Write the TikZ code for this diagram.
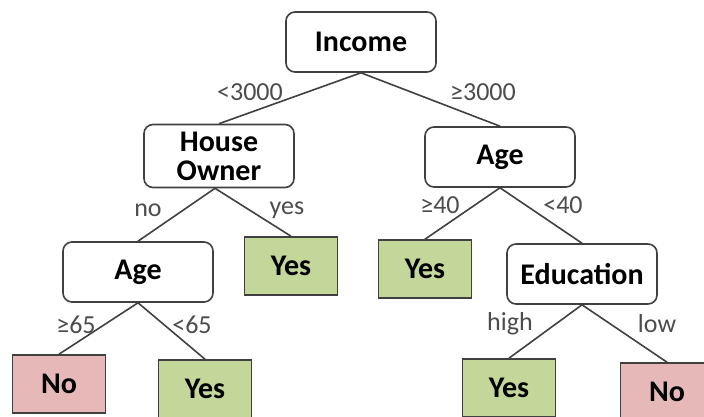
\documentclass[tikz,border=0pt]{standalone}
\usepackage{fontspec}
\setmainfont{Carlito}
\usetikzlibrary{positioning}
\definecolor{LeafGreen}{RGB}{196,215,155}
\definecolor{LeafRed}{RGB}{230,185,184}
\definecolor{EdgeGray}{RGB}{64,64,64}

\begin{document}
\begin{tikzpicture}[x=1pt,y=-1pt,
  test/.style={draw=EdgeGray,line width=1.6pt,rounded corners=9pt,fill=white,
    minimum width=150pt,minimum height=60pt,align=center,
    font=\fontsize{30}{29}\selectfont\bfseries},
  leaf/.style={draw=EdgeGray,line width=1.6pt,minimum width=93pt,minimum height=58pt,
    font=\fontsize{30}{29}\selectfont\bfseries},
  leafyes/.style={leaf,fill=LeafGreen},
  leafno/.style={leaf,fill=LeafRed},
  branch/.style={draw=EdgeGray,line width=1.6pt},
  lab/.style={text=black!70,font=\fontsize{26}{26}\selectfont}]
  \clip (0,0) rectangle (704,417);
  % decision nodes
  \node[test] (income) at (361,42) {Income};
  \node[test,minimum height=63pt,inner sep=1pt] (owner) at (219,156) {House\\Owner};
  \node[test] (ageR) at (500,157) {Age};
  \node[test] (ageL) at (138,272) {Age};
  \node[test] (edu) at (582,274) {Education};
  % leaves
  \node[leafyes] (yesA) at (291,266) {Yes};
  \node[leafyes] (yesB) at (425,269) {Yes};
  \node[leafno] (noA) at (59,384) {No};
  \node[leafyes] (yesC) at (205,389) {Yes};
  \node[leafyes] (yesD) at (509,388) {Yes};
  \node[leafno] (noB) at (667,392) {No};
  % branches
  \draw[branch] (income.south) -- (owner.north);
  \draw[branch] (income.south) -- (ageR.north);
  \draw[branch] (owner.south) ++(-4,0) -- (ageL.north);
  \draw[branch] (owner.south) ++(-4,0) -- (yesA.north);
  \draw[branch] (ageR.south) -- (yesB.north);
  \draw[branch] (ageR.south) -- (edu.north);
  \draw[branch] (ageL.south) -- (noA.north);
  \draw[branch] (ageL.south) -- (yesC.north);
  \draw[branch] (edu.south) -- (yesD.north);
  \draw[branch] (edu.south) -- (noB.north);
  % branch labels
  \node[lab] (l1) at (250,92) {<3000};
  \node[lab] (l2) at (483,92) {≥3000};
  \node[lab] (l3) at (148,210) {no};
  \node[lab] (l4) at (287,210) {yes};
  \node[lab] (l5) at (440,205) {≥40};
  \node[lab] (l6) at (563,205) {<40};
  \node[lab] (l7) at (76,325) {≥65};
  \node[lab] (l8) at (192,325) {<65};
  \node[lab] (l9) at (510,324) {high};
  \node[lab] (l10) at (657,324) {low};
\end{tikzpicture}
\end{document}
